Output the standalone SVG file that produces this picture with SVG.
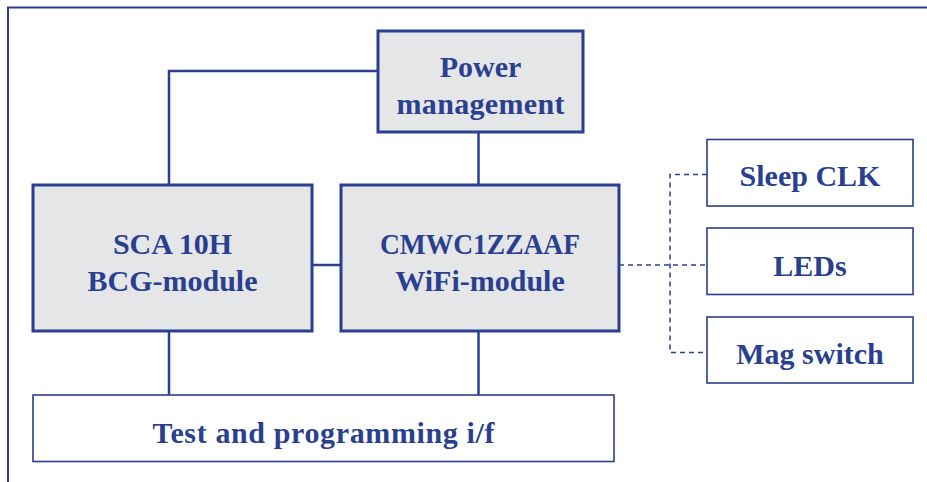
<svg xmlns="http://www.w3.org/2000/svg" width="927" height="482" viewBox="0 0 927 482">
<style>
.t{font-family:"Liberation Serif","Times New Roman",serif;font-weight:bold;font-size:30px;fill:#2a3f8f;text-anchor:middle}
.thick{fill:#e5e6e8;stroke:#2a3f8f;stroke-width:3}
.thin{fill:#ffffff;stroke:#2a3f8f;stroke-width:1.6}
.wire{fill:none;stroke:#2a3f8f;stroke-width:2.5}
.dash{fill:none;stroke:#2a3f8f;stroke-width:1.5;stroke-dasharray:5 4}
</style>
<rect width="927" height="482" fill="#ffffff"/>
<path d="M8,482 V7.5 H927" fill="none" stroke="#2a3f8f" stroke-width="2"/>
<g id="connectors">
<path class="wire" d="M378,71 H169 V185"/>
<path class="wire" d="M478.5,132 V185"/>
<path class="wire" d="M312,265 H341"/>
<path class="wire" d="M169,331 V395"/>
<path class="wire" d="M478.5,331 V395"/>
<path class="dash" d="M619,265 H707"/>
<path class="dash" d="M707,174.5 H670 V352.5 H707"/>
</g>
<g id="power">
<rect class="thick" x="378" y="31" width="205" height="101"/>
<text class="t" x="480.5" y="77">Power</text>
<text class="t" x="480.5" y="114" textLength="168" lengthAdjust="spacing">management</text>
</g>
<g id="sca">
<rect class="thick" x="33" y="185" width="279" height="146"/>
<text class="t" x="172.5" y="254">SCA 10H</text>
<text class="t" x="172.5" y="291">BCG-module</text>
</g>
<g id="wifi">
<rect class="thick" x="341" y="185" width="278" height="146"/>
<text class="t" x="480" y="254" textLength="200" lengthAdjust="spacingAndGlyphs">CMWC1ZZAAF</text>
<text class="t" x="480" y="291">WiFi-module</text>
</g>
<g id="sleep">
<rect class="thin" x="707" y="139.5" width="206" height="66.5"/>
<text class="t" x="810" y="186">Sleep CLK</text>
</g>
<g id="leds">
<rect class="thin" x="707" y="228" width="206" height="66.5"/>
<text class="t" x="810" y="275.5">LEDs</text>
</g>
<g id="mag">
<rect class="thin" x="707" y="317" width="206" height="66"/>
<text class="t" x="810" y="363.5">Mag switch</text>
</g>
<g id="test">
<rect class="thin" x="33" y="395" width="581" height="66.5"/>
<text class="t" x="323.5" y="443" textLength="342" lengthAdjust="spacing">Test and programming i/f</text>
</g>
</svg>
